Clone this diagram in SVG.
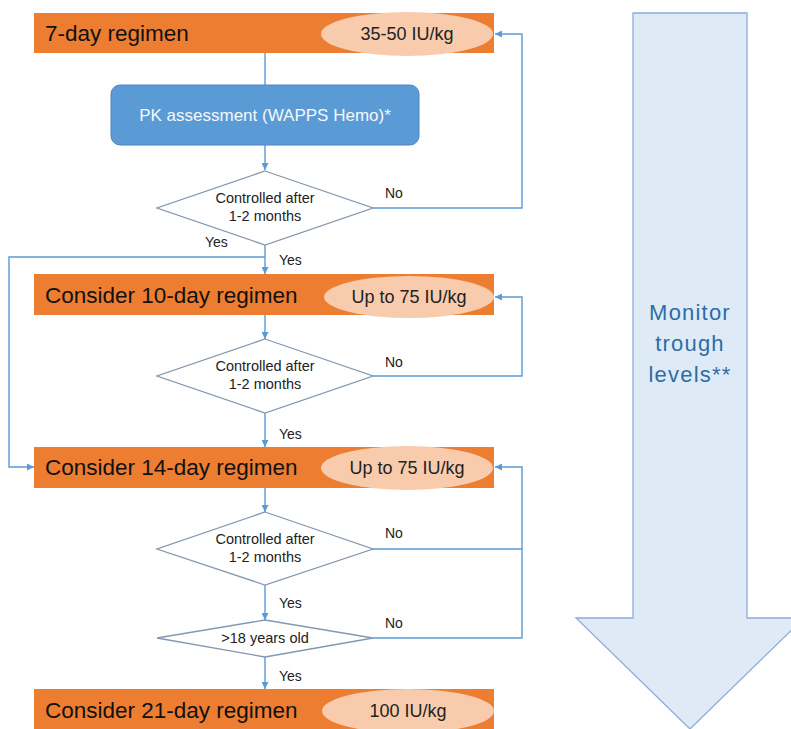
<svg xmlns="http://www.w3.org/2000/svg" width="791" height="729" viewBox="0 0 791 729">
<defs>
<marker id="ah" viewBox="0 0 10 10" refX="10" refY="5" markerWidth="7" markerHeight="7" markerUnits="userSpaceOnUse" orient="auto">
<path d="M0,0 L10,5 L0,10 z" fill="#5B9BD5"/>
</marker>
<style>
.bar{fill:#ED7D31}
.ell{fill:#F8CBAD}
.bt{font-family:"Liberation Sans",Arial,sans-serif;font-size:22.5px;fill:#111}
.et{font-family:"Liberation Sans",Arial,sans-serif;font-size:18px;fill:#222;text-anchor:middle}
.dia{fill:#fff;stroke:#8497B0;stroke-width:1.3}
.dt{font-family:"Liberation Sans",Arial,sans-serif;font-size:14.5px;fill:#222;text-anchor:middle}
.lbl{font-family:"Liberation Sans",Arial,sans-serif;font-size:14px;fill:#222}
.mt{font-family:"Liberation Sans",Arial,sans-serif;font-size:22px;letter-spacing:1.2px;fill:#2E6DA4;text-anchor:middle}
.c{fill:none;stroke:#5B9BD5;stroke-width:1.4}
.ca{fill:none;stroke:#5B9BD5;stroke-width:1.4;marker-end:url(#ah)}
</style>
</defs>
<rect width="791" height="729" fill="#fff"/>

<g id="monitor">
<path d="M633,13 L747,13 L747,618 L804,618 L690,729 L576,618 L633,618 Z" fill="#DEEBF7" stroke="#8FAADC" stroke-width="1.3"/>
<text class="mt" x="690" y="320">Monitor</text>
<text class="mt" x="690" y="351">trough</text>
<text class="mt" x="690" y="382">levels**</text>
</g>

<g id="connectors">
<path class="c" d="M265,53 L265,85"/>
<path class="ca" d="M265,145 L265,170"/>
<path class="ca" d="M265,245 L265,274"/>
<path class="ca" d="M265,257 L9,257 L9,467 L34,467"/>
<path class="ca" d="M373,208 L522,208 L522,34 L495,34"/>
<path class="ca" d="M265,315 L265,339"/>
<path class="ca" d="M373,376 L522,376 L522,297 L495,297"/>
<path class="ca" d="M265,413 L265,447"/>
<path class="ca" d="M265,488 L265,512"/>
<path class="ca" d="M373,549 L522,549 L522,467 L495,467"/>
<path class="c" d="M373,638 L522,638 L522,549"/>
<path class="ca" d="M265,585 L265,620"/>
<path class="ca" d="M265,657 L265,689"/>
</g>

<g id="bar1">
<rect class="bar" x="34" y="13" width="460" height="40"/>
<ellipse class="ell" cx="407" cy="34" rx="86" ry="22"/>
<text class="bt" x="45" y="41">7-day regimen</text>
<text class="et" x="407" y="40">35-50 IU/kg</text>
</g>

<g id="pk">
<rect x="111" y="85" width="308" height="60" rx="9" fill="#5B9BD5" stroke="#4A86C0" stroke-width="1"/>
<text x="265" y="121" text-anchor="middle" font-family="'Liberation Sans',Arial,sans-serif" font-size="17" fill="#F4F8FC">PK assessment (WAPPS Hemo)*</text>
</g>

<g id="d1">
<polygon class="dia" points="265,171 373,208 265,245 157,208"/>
<text class="dt" x="265" y="203">Controlled after</text>
<text class="dt" x="265" y="221">1-2 months</text>
</g>

<g id="bar2">
<rect class="bar" x="34" y="274" width="460" height="41"/>
<ellipse class="ell" cx="409" cy="297" rx="85" ry="21"/>
<text class="bt" x="45" y="303">Consider 10-day regimen</text>
<text class="et" x="409" y="303">Up to 75 IU/kg</text>
</g>

<g id="d2">
<polygon class="dia" points="265,339 373,376 265,413 157,376"/>
<text class="dt" x="265" y="371">Controlled after</text>
<text class="dt" x="265" y="389">1-2 months</text>
</g>

<g id="bar3">
<rect class="bar" x="34" y="447" width="460" height="41"/>
<ellipse class="ell" cx="407" cy="468" rx="86" ry="22"/>
<text class="bt" x="45" y="475">Consider 14-day regimen</text>
<text class="et" x="407" y="474">Up to 75 IU/kg</text>
</g>

<g id="d3">
<polygon class="dia" points="265,512 373,549 265,585 157,549"/>
<text class="dt" x="265" y="544">Controlled after</text>
<text class="dt" x="265" y="562">1-2 months</text>
</g>

<g id="d4">
<polygon class="dia" points="265,620 373,638 265,657 157,638"/>
<text class="dt" x="265" y="643">&gt;18 years old</text>
</g>

<g id="bar4">
<rect class="bar" x="34" y="689" width="460" height="41"/>
<ellipse class="ell" cx="408" cy="711" rx="86" ry="22"/>
<text class="bt" x="45" y="718">Consider 21-day regimen</text>
<text class="et" x="408" y="717">100 IU/kg</text>
</g>

<g id="labels">
<text class="lbl" x="205" y="247">Yes</text>
<text class="lbl" x="279" y="265">Yes</text>
<text class="lbl" x="385" y="198">No</text>
<text class="lbl" x="385" y="367">No</text>
<text class="lbl" x="279" y="439">Yes</text>
<text class="lbl" x="385" y="538">No</text>
<text class="lbl" x="279" y="608">Yes</text>
<text class="lbl" x="385" y="628">No</text>
<text class="lbl" x="279" y="681">Yes</text>
</g>
</svg>
